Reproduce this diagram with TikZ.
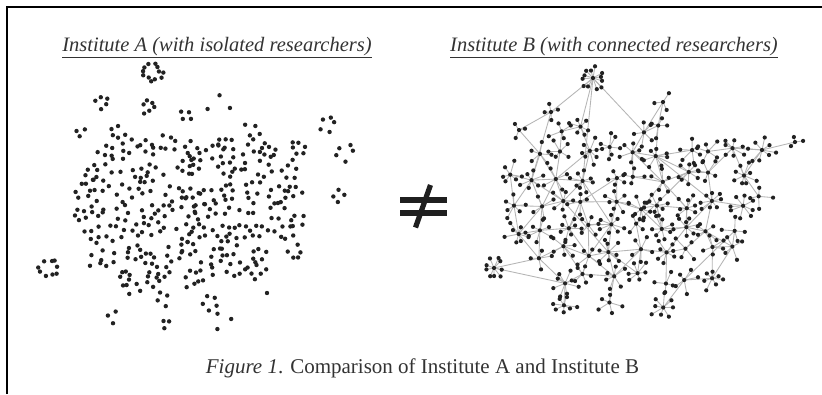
\documentclass[tikz,border=0pt]{standalone}
\usepackage{fontspec}
\setmainfont{Liberation Serif}
\definecolor{dotc}{HTML}{222222}
\definecolor{edgec}{HTML}{B5B5B5}
\definecolor{txtc}{HTML}{333333}
\begin{document}
\begin{tikzpicture}[x=1pt,y=-1pt,
  edge/.style={draw=edgec,line width=0.85pt},
  dotfill/.style={fill=dotc},
  title/.style={anchor=base,text=txtc,font=\fontsize{20.5}{24}\selectfont\itshape,inner sep=0pt},
  caption/.style={anchor=base,text=txtc,font=\fontsize{21}{25}\selectfont,inner sep=0pt},
  frameline/.style={draw=black,line width=1.1pt},
  neqbar/.style={draw=black!88}]
\useasboundingbox (0,0) rectangle (822,394);
\fill[white] (0,0) rectangle (822,394);
% frame
\coordinate (fbl) at (7,394);
\coordinate (ftl) at (7,7);
\coordinate (ftr) at (822,7);
\draw[frameline] (fbl) -- (ftl) -- (ftr);
% titles
\node[title] (titleA) at (217,51) {\underline{Institute A (with isolated researchers)}};
\node[title] (titleB) at (614,51) {\underline{Institute B (with connected researchers)}};
\node[caption] (cap) at (422.5,373) {\textit{Figure 1}. Comparison of Institute A and Institute B};
% not-equal sign
\coordinate (n1) at (400,199.7);
\coordinate (n2) at (447,199.7);
\coordinate (n3) at (400,213);
\coordinate (n4) at (447,213);
\coordinate (n5) at (430.5,185);
\coordinate (n6) at (415.5,227.5);
\draw[neqbar,line width=6pt] (n1) -- (n2);
\draw[neqbar,line width=6pt] (n3) -- (n4);
\draw[neqbar,line width=5.2pt] (n5) -- (n6);
% ---------------- Institute A: isolated dots
\pgfmathsetseed{4242}
\foreach \yy/\xa/\xb in {148/105/295, 169/95/300, 190/85/300, 211/102/290, 232/95/285, 253/110/272, 274/126/255}{
  \pgfmathtruncatemacro\xs{\xa+21}
  \foreach \xx in {\xa,\xs,...,\xb}{
    \pgfmathsetmacro\cx{\xx+6*rand}
    \pgfmathsetmacro\cy{\yy+5*rand}
    \pgfmathsetmacro\azero{360*rnd}
    \pgfmathtruncatemacro\cn{5+int(2*rnd)}
    \foreach \k in {1,...,\cn}{
      \pgfmathsetmacro\ang{\azero+\k*360/\cn+15*rand}
      \pgfmathsetmacro\rad{10.5*(0.4+0.6*rnd)}
      \pgfmathsetmacro\px{\cx+\rad*cos(\ang)}
      \pgfmathsetmacro\py{\cy+\rad*sin(\ang)}
      \fill[dotfill] (\px,\py) circle (2.2pt);
    }
  }
}
\foreach \cx/\cy/\cn/\cr in {153/73/12/12, 103/102/5/8, 148/106/6/10, 187/115/4/7, 219/104/3/13,
  80/132/3/8, 117/133/5/9, 250/128/3/9, 328/122/5/11, 345/152/5/10, 338/195/4/9,
  80/215/5/10, 50/268/9/12, 93/262/3/10, 133/288/4/8, 162/298/4/9, 210/302/5/9,
  267/293/1/0, 112/316/3/8, 166/323/3/6, 222/321/3/10, 296/220/5/9, 296/253/5/9}{
  \pgfmathsetmacro\azero{360*rnd}
  \foreach \k in {1,...,\cn}{
    \pgfmathsetmacro\ang{\azero+\k*360/\cn+15*rand}
    \pgfmathsetmacro\rad{\cr*(0.45+0.55*rnd)}
    \pgfmathsetmacro\px{\cx+\rad*cos(\ang)}
    \pgfmathsetmacro\py{\cy+\rad*sin(\ang)}
    \fill[dotfill] (\px,\py) circle (2.2pt);
  }
}
% ---------------- Institute B: connected network (grid of hubs), pass 1: positions and edges
\def\gridrows{0/{2,3,5,6}, 1/{1,...,9}, 2/{0,...,9}, 3/{0,...,10}, 4/{0,...,9},
  5/{1,...,9}, 6/{2,...,8}, 7/{2,4,6}}
\pgfmathsetseed{777}
\foreach \gr/\clist in \gridrows{
  \foreach \gc in \clist{
    \pgfmathsetmacro\hx{512+25*\gc+7*rand}
    \pgfmathsetmacro\hy{128+25*\gr+7*rand}
    \coordinate (g\gr-\gc) at (\hx,\hy);
    \pgfmathtruncatemacro\gl{\gc-1}
    \pgfmathtruncatemacro\gu{\gr-1}
    \pgfmathtruncatemacro\gR{\gc+1}
    \pgfmathtruncatemacro\okA{(rnd<0.75)}
    \pgfmathtruncatemacro\okB{(rnd<0.6)}
    \pgfmathtruncatemacro\okC{(rnd<0.3)}
    \pgfmathtruncatemacro\okD{(rnd<0.25)}
    \ifcsname pgf@sh@ns@g\gr-\gl\endcsname\ifnum\okA=1 \draw[edge] (g\gr-\gc) -- (g\gr-\gl);\fi\fi
    \ifcsname pgf@sh@ns@g\gu-\gc\endcsname\ifnum\okB=1 \draw[edge] (g\gr-\gc) -- (g\gu-\gc);\fi\fi
    \ifcsname pgf@sh@ns@g\gu-\gR\endcsname\ifnum\okC=1 \draw[edge] (g\gr-\gc) -- (g\gu-\gR);\fi\fi
    \ifcsname pgf@sh@ns@g\gu-\gl\endcsname\ifnum\okD=1 \draw[edge] (g\gr-\gc) -- (g\gu-\gl);\fi\fi
    \pgfmathtruncatemacro\hn{4+int(5*rnd)}
    \expandafter\xdef\csname hubnum@g\gr-\gc\endcsname{\hn}
    \pgfmathsetmacro\azero{360*rnd}
    \foreach \j in {1,...,\hn}{
      \pgfmathsetmacro\ang{\azero+\j*360/\hn+18*rand}
      \pgfmathsetmacro\rad{14.5*(0.45+0.55*rnd)}
      \pgfmathsetmacro\px{\hx+\rad*cos(\ang)}
      \pgfmathsetmacro\py{\hy+\rad*sin(\ang)}
      \coordinate (g\gr-\gc-\j) at (\px,\py);
      \draw[edge] (g\gr-\gc) -- (g\gr-\gc-\j);
    }
  }
}
% peripheral stars, pass 1
\def\periph{1/593/78/12/13, 2/551/112/4/9, 3/519/130/3/9, 4/663/102/3/11,
  5/762/150/8/15, 6/795/142/3/9, 7/494/268/9/12}
\foreach \i/\hx/\hy/\hn/\hr in \periph{
  \coordinate (p\i) at (\hx,\hy);
  \pgfmathsetmacro\azero{360*rnd}
  \foreach \j in {1,...,\hn}{
    \pgfmathsetmacro\ang{\azero+\j*360/\hn+15*rand}
    \pgfmathsetmacro\rad{\hr*(0.55+0.45*rnd)}
    \pgfmathsetmacro\px{\hx+\rad*cos(\ang)}
    \pgfmathsetmacro\py{\hy+\rad*sin(\ang)}
    \coordinate (p\i-\j) at (\px,\py);
    \draw[edge] (p\i) -- (p\i-\j);
  }
}
\foreach \ha/\hb in {p1/g0-3, p1/p2, p1/g0-5, p2/p3, p3/g1-1, p4/g0-6, p4/g0-5,
  p5/g1-9, p5/p6, p5/g2-9, p7/g5-1, p7/g6-2, p2/g2-1, g2-3/g4-4, g1-6/g3-8, g3-2/g5-4,
  g4-9/g6-7, g2-7/g4-5, p1/g2-3}{
  \draw[edge] (\ha) -- (\hb);
}
% pass 2: dots
\foreach \gr/\clist in \gridrows{
  \foreach \gc in \clist{
    \fill[dotfill] (g\gr-\gc) circle (2.1pt);
    \edef\hn{\csname hubnum@g\gr-\gc\endcsname}
    \foreach \j in {1,...,\hn}{
      \fill[dotfill] (g\gr-\gc-\j) circle (2.1pt);
    }
  }
}
\foreach \i/\hx/\hy/\hn/\hr in \periph{
  \fill[dotfill] (p\i) circle (2.1pt);
  \foreach \j in {1,...,\hn}{
    \fill[dotfill] (p\i-\j) circle (2.1pt);
  }
}
\end{tikzpicture}
\end{document}
